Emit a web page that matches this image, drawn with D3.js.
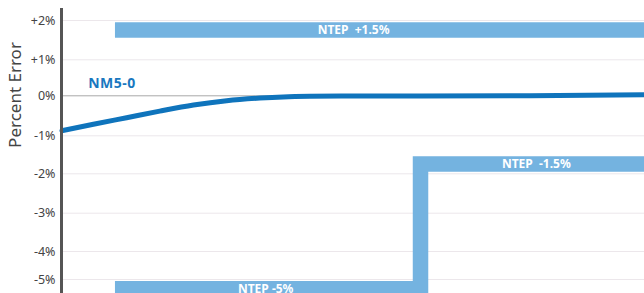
<!DOCTYPE html>
<html>
<head>
<meta charset="utf-8">
<script src="https://cdn.jsdelivr.net/npm/d3@7"></script>
<style>
  body { margin: 0; background: #fff; }
  svg { display: block; font-family: "Noto Sans", sans-serif; }
</style>
</head>
<body>
<div id="chart"></div>
<script>
// y ticks (percent error)
const tickValues = [2, 1, 0, -1, -2, -3, -4, -5];
const tickLabels = ["+2%", "+1%", "0%", "-1%", "-2%", "-3%", "-4%", "-5%"];

// NM5-0 error curve: x in relative load units (0..100), y in percent
const curveX = [0, 5.4, 11.1, 16.8, 22.6, 28.3, 34, 38, 42.6, 48, 61.5, 80.4, 100];
const curveY = [-0.885, -0.725, -0.56, -0.395, -0.243, -0.135, -0.07, -0.04, -0.025, -0.02, -0.02, -0.01, 0.012];

// NTEP tolerance limits (step lines)
const upperX = [9.1, 110];
const upperV = [1.5, 1.5];
const lowerX = [9.1, 61.6, 110];
const lowerV = [-5, -1.5, -1.5];

// band labels
const bandLabels = ["NTEP  +1.5%", "NTEP  -1.5%", "NTEP -5%"];
const bandLabelX = [50.1, 81.5, 35];
const bandLabelV = [1.5, -1.5, -5];

const seriesName = "NM5-0";

const W = 644, H = 293;
const axisX = 61.5;

const svg = d3.select("#chart").append("svg")
  .attr("width", W).attr("height", H);

const x = d3.scaleLinear().domain([0, 100]).range([62, 644]);
// gridlines in the original are not evenly spaced, so map each tick
const y = d3.scaleLinear()
  .domain(tickValues)
  .range([20, 59.3, 95.3, 135.3, 173.3, 212.7, 251, 279]);

// gridlines
svg.append("g")
  .selectAll("line")
  .data(tickValues)
  .join("line")
  .attr("x1", 63).attr("x2", W)
  .attr("y1", d => y(d) + 0.5).attr("y2", d => y(d) + 0.5)
  .attr("stroke", d => d === 0 ? "#a9a9a9" : "#ece7eb")
  .attr("stroke-width", 1);

// tolerance bands drawn as thick step lines, offset outward from the limit
const bandW = 15.5, gap = 2;
const bandOffset = v => (v > 0 ? -1 : 1) * (gap + bandW / 2);

const bandLine = d3.line()
  .x(d => x(d.x))
  .y(d => y(d.v) + bandOffset(d.v))
  .curve(d3.curveStepAfter);

const upper = upperX.map((d, i) => ({x: d, v: upperV[i]}));
const lower = lowerX.map((d, i) => ({x: d, v: lowerV[i]}));

svg.append("g")
  .selectAll("path")
  .data([upper, lower])
  .join("path")
  .attr("d", bandLine)
  .attr("fill", "none")
  .attr("stroke", "#74b3e0")
  .attr("stroke-width", bandW)
  .attr("stroke-linejoin", "miter");

svg.append("g")
  .selectAll("text")
  .data(bandLabels)
  .join("text")
  .attr("x", (d, i) => x(bandLabelX[i]))
  .attr("y", (d, i) => y(bandLabelV[i]) + bandOffset(bandLabelV[i]) + 4)
  .attr("text-anchor", "middle")
  .attr("fill", "#fff")
  .attr("font-size", 12)
  .attr("font-weight", "bold")
  .style("white-space", "pre")
  .text(d => d);

// NM5-0 curve
const pts = curveX.map((d, i) => ({x: d, v: curveY[i]}));
svg.append("path")
  .datum(pts)
  .attr("d", d3.line().x(d => x(d.x)).y(d => y(d.v)).curve(d3.curveMonotoneX))
  .attr("fill", "none")
  .attr("stroke", "#0f74bc")
  .attr("stroke-width", 5)
  .attr("stroke-linecap", "round");

svg.append("text")
  .attr("x", x(4.5))
  .attr("y", y(0.19))
  .attr("fill", "#1a78c0")
  .attr("font-size", 14)
  .attr("font-weight", "bold")
  .attr("letter-spacing", 0.5)
  .text(seriesName);

// y axis
const yAxis = svg.append("g")
  .attr("transform", `translate(${axisX},0)`)
  .call(d3.axisLeft(y).tickValues(tickValues).tickFormat((d, i) => tickLabels[i]).tickSize(0).tickPadding(6));

yAxis.select(".domain").remove();
yAxis.append("line")
  .attr("y1", 8).attr("y2", H)
  .attr("stroke", "#555").attr("stroke-width", 3);
yAxis.selectAll(".tick text")
  .attr("font-family", "Noto Sans, sans-serif")
  .attr("font-size", 12.5)
  .attr("fill", "#444");

svg.append("text")
  .attr("transform", `translate(21,95) rotate(-90)`)
  .attr("text-anchor", "middle")
  .attr("font-size", 17)
  .attr("fill", "#444")
  .text("Percent Error");
</script>
</body>
</html>
